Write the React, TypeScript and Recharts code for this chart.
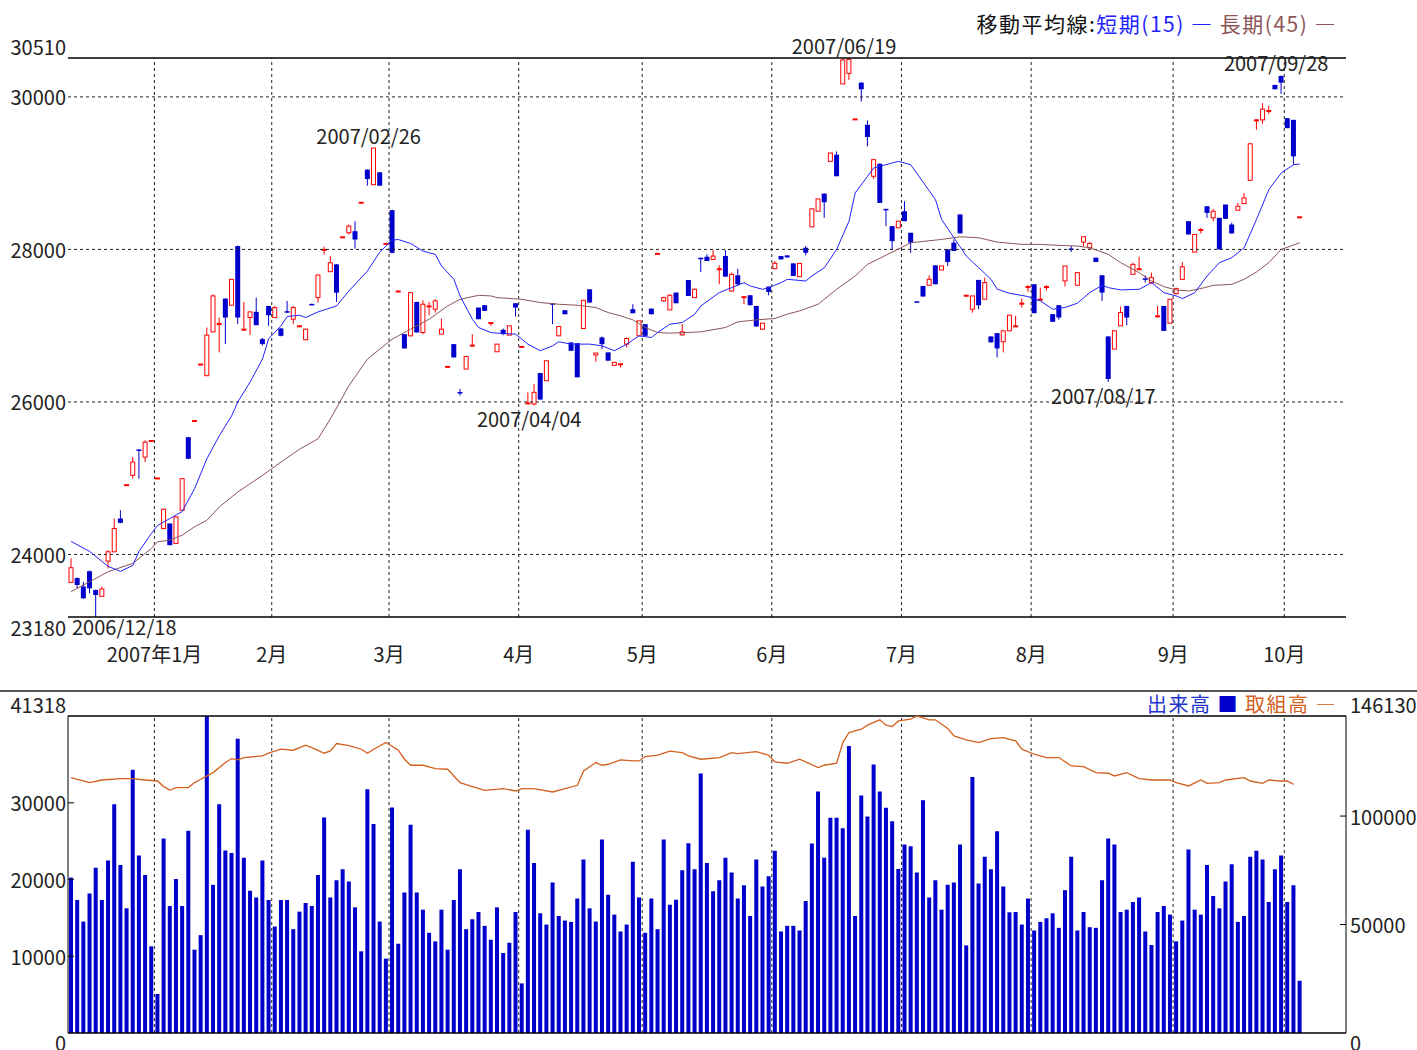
import { ComposedChart, Bar, Line, XAxis, YAxis, ReferenceLine, ReferenceDot } from 'recharts';

const FONT = '"Noto Sans CJK JP", "Noto Sans", sans-serif';
const TEXT = '#222';
const RED = '#ff0000';
const BLUE = '#0000cc';
const SHORT_COLOR = '#2222ff';
const LONG_COLOR = '#8c5656';
const OI_COLOR = '#d2601e';

const SLOTS = 207;
const PRICE_MIN = 23180;
const PRICE_MAX = 30510;
const VOL_MAX = 41318;
const OI_MAX = 146130;

// trading days from 2006/12/12, one entry per day
const opens = [
  23634, 23690, 23580, 23780, 23534, 23451, 23913, 24035, 24471, 24910, 25037, 25377, 25277, 25490, 24998, 24340, 24406, 24144, 24580, 25538,
  25750, 26490, 26344, 26919, 27020, 27355, 27268, 28044, 26950, 27107, 27181, 26824, 27259, 27107, 26963, 27190, 27085, 26990, 26815, 27285,
  27368, 27995, 27708, 27804, 28160, 28218, 28239, 28613, 29045, 28849, 29011, 28073, 28514, 27450, 26889, 26867, 27311, 26911, 27255, 27216,
  26889, 26461, 26758, 26130, 26431, 26740, 27237, 27268, 27036, 26658, 26946, 26876, 27294, 26723, 25982, 25974, 26379, 26279, 27294, 26867,
  27203, 26780, 26771, 26963, 27477, 26615, 26846, 26650, 26480, 26495, 26758, 27216, 26867, 27020, 27224, 27943, 27325, 27207, 27434, 26880,
  27599, 27368, 27891, 27904, 27869, 27740, 27913, 27455, 27660, 27375, 27399, 27259, 26954, 27512, 27747, 27913, 27922, 27817, 27643, 28022,
  28296, 28501, 28732, 29155, 29242, 30170, 30309, 29707, 30187, 29634, 28959, 29124, 28532, 28305, 28283, 28501, 28218, 27320, 27521, 27530,
  27791, 27730, 28000, 28088, 28458, 27394, 27216, 27600, 27347, 26859, 26902, 26789, 26933, 26994, 27290, 27508, 27543, 27340, 27508, 27151,
  27268, 27587, 28012, 27530, 28096, 28022, 27892, 27661, 26859, 26693, 26998, 27259, 27673, 27740, 27620, 27564, 27120, 27259, 27033, 27420,
  27608, 28370, 27965, 28255, 28566, 28414, 28414, 28588, 28327, 28514, 28601, 28906, 29690, 29699, 29815, 30157, 30274, 29721, 29699, 28422,
];
const highs = [
  23948, 23700, 23640, 23790, 23540, 23578, 24057, 24471, 24580, 24915, 25277, 25377, 25495, 25495, 25003, 24600, 24410, 24500, 25000, 25540,
  25756, 26497, 26976, 27410, 27107, 27360, 27610, 28050, 27312, 27181, 27368, 26840, 27260, 27260, 26970, 27325, 27259, 27010, 26960, 27290,
  27670, 28035, 27912, 27810, 28165, 28327, 28370, 28618, 29050, 29329, 29011, 28078, 28520, 27455, 26889, 27440, 27315, 27333, 27311, 27346,
  27093, 26466, 26760, 26170, 26597, 26889, 27240, 27270, 27045, 26758, 26963, 26998, 27294, 26728, 26126, 26235, 26380, 26540, 27294, 26989,
  27203, 26780, 26771, 27333, 27477, 26641, 26858, 26650, 26519, 26500, 26846, 27281, 27063, 27020, 27224, 27948, 27380, 27412, 27434, 27020,
  27599, 27486, 27891, 27935, 27991, 27791, 27991, 27695, 27747, 27381, 27399, 27259, 27033, 27512, 27848, 27913, 27922, 27817, 27817, 28044,
  28532, 28662, 28732, 29264, 29285, 30500, 30510, 29712, 30190, 29691, 29186, 29124, 28532, 28305, 28370, 28632, 28218, 27320, 27521, 27661,
  27791, 27783, 28000, 28131, 28458, 27399, 27390, 27600, 27630, 26859, 26902, 26933, 27138, 27129, 27356, 27530, 27543, 27499, 27530, 27151,
  27268, 27783, 28044, 27696, 28166, 28096, 27892, 27661, 26859, 26933, 27250, 27259, 27826, 27904, 27660, 27695, 27259, 27259, 27346, 27500,
  27834, 28370, 28196, 28283, 28566, 28531, 28414, 28588, 28350, 28610, 28741, 29385, 29710, 29917, 29882, 30157, 30280, 29721, 29699, 28427,
];
const lows = [
  23634, 23560, 23420, 23490, 23180, 23451, 23817, 24035, 24410, 24910, 24994, 24994, 25212, 25490, 24998, 24330, 24120, 24140, 24575, 25250,
  25750, 26490, 26340, 26919, 26650, 26758, 27268, 27020, 26932, 26876, 27007, 26740, 26998, 27100, 26860, 27165, 27019, 26985, 26810, 27275,
  27303, 27934, 27708, 27311, 28160, 28196, 28009, 28613, 28836, 28849, 28836, 28073, 27947, 27450, 26701, 26860, 26911, 26889, 27137, 27172,
  26889, 26461, 26584, 26083, 26431, 26727, 27085, 27194, 26998, 26658, 26876, 26876, 27120, 26723, 25974, 25952, 26031, 26279, 27020, 26867,
  27150, 26671, 26323, 26963, 27303, 26527, 26693, 26541, 26475, 26453, 26715, 27163, 26867, 26867, 27150, 27943, 27315, 27207, 27294, 26867,
  27390, 27368, 27704, 27848, 27869, 27543, 27643, 27442, 27521, 27281, 27268, 26989, 26950, 27399, 27747, 27869, 27891, 27652, 27643, 27922,
  28296, 28501, 28414, 29155, 28959, 30170, 30222, 29707, 29939, 29351, 28924, 28610, 28305, 27991, 28283, 28370, 27957, 27312, 27382, 27530,
  27543, 27730, 27783, 27979, 28210, 27394, 27170, 27216, 27347, 26781, 26584, 26650, 26933, 26994, 27238, 27443, 27164, 27340, 27460, 27051,
  27080, 27513, 27966, 27530, 28044, 28000, 27835, 27325, 26260, 26693, 26998, 27006, 27673, 27740, 27564, 27550, 27107, 26932, 27033, 27410,
  27608, 28196, 27965, 28209, 28414, 28370, 28000, 28401, 28209, 28514, 28601, 28906, 29568, 29647, 29778, 30100, 30039, 29590, 29111, 28422,
];
const closes = [
  23826, 23600, 23425, 23556, 23469, 23547, 24035, 24340, 24414, 24915, 25212, 25360, 25473, 25495, 25003, 24593, 24122, 24493, 24994, 25255,
  25756, 26497, 26876, 27390, 27028, 27107, 27608, 27107, 26954, 27181, 27007, 26758, 27137, 27237, 26867, 27172, 27237, 26998, 26954, 27281,
  27664, 28000, 27825, 27433, 28165, 28305, 28130, 28618, 28923, 29329, 28836, 28078, 27956, 27455, 26701, 27433, 26911, 27281, 27259, 27325,
  26954, 26466, 26584, 26110, 26597, 26745, 27085, 27194, 27041, 26758, 26889, 26998, 27238, 26728, 25987, 26126, 26031, 26540, 27280, 26989,
  27150, 26671, 26323, 27333, 27303, 26641, 26758, 26541, 26519, 26500, 26832, 27163, 27063, 26867, 27150, 27948, 27368, 27399, 27294, 26919,
  27390, 27477, 27880, 27848, 27913, 27747, 27643, 27673, 27543, 27381, 27268, 26989, 27033, 27442, 27817, 27869, 27895, 27652, 27817, 27956,
  28532, 28662, 28619, 29264, 28959, 30484, 30492, 29712, 30100, 29473, 29177, 28610, 28520, 28109, 28370, 28370, 28088, 27316, 27382, 27608,
  27543, 27783, 27835, 27979, 28210, 27399, 27390, 27268, 27565, 26781, 26702, 26933, 27138, 26998, 27295, 27513, 27164, 27347, 27513, 27051,
  27107, 27783, 28009, 27696, 28166, 28079, 27835, 27434, 26301, 26933, 27172, 27107, 27804, 27747, 27617, 27630, 27129, 26932, 27346, 27486,
  27773, 28196, 28196, 28261, 28479, 28501, 28000, 28401, 28209, 28566, 28675, 29385, 29699, 29839, 29821, 30100, 30187, 29590, 29220, 28427,
];
const volumes = [
  20257, 17326, 14525, 18188, 21550, 17326, 22498, 29825, 21895, 16249, 34308, 23145, 20602, 11292, 5086, 25343, 16550, 20085, 16550, 26377,
  10861, 12758, 41318, 19309, 29825, 23791, 23446, 38359, 22843, 18533, 17671, 22498, 17326, 13878, 17326, 17326, 13533, 15818, 16938, 16550,
  20602, 28101, 17671, 19912, 21335, 19740, 16378, 10646, 31765, 27239, 14525, 9698, 29394, 11637, 18318, 27153, 18318, 16076, 13059, 11939,
  16076, 10861, 17326, 21335, 13533, 14826, 15775, 13964, 12154, 16378, 10430, 11766, 15775, 6465, 26507, 22153, 15602, 14137, 19611, 15257,
  14654, 14482, 17542, 22628, 16249, 14525, 25214, 18016, 15430, 13232, 14137, 22326, 17671, 13059, 17542, 13533, 25214, 16723, 17369, 21205,
  24739, 21335, 33834, 22153, 18490, 19912, 22843, 20904, 17542, 19266, 15257, 22628, 19093, 20429, 23748, 13232, 13964, 13964, 13361, 17197,
  24696, 31463, 22843, 28058, 28058, 26679, 37411, 15257, 30946, 28231, 34997, 31463, 29351, 27584, 21378, 24567, 24352, 20904, 30342, 17671,
  19912, 16076, 19309, 19611, 24567, 11422, 33359, 19481, 22972, 21335, 26291, 19093, 15732, 15775, 14137, 17542, 13361, 14482, 14956, 15602,
  13706, 18619, 22972, 13361, 15775, 13792, 13706, 19912, 25343, 24567, 15775, 16076, 17068, 17671, 13232, 11465, 15775, 16550, 15430, 11939,
  14654, 23921, 16076, 15430, 21895, 17843, 16249, 19740, 21981, 14482, 15257, 22972, 23748, 22628, 17068, 21335, 23145, 17068, 19266, 6810,
];

// moving averages and open interest at these day indexes
const maShortIdx = [0, 3, 6, 8, 10, 11, 13, 14, 16, 18, 20, 22, 24, 26, 27, 29, 31, 32, 34, 35, 37, 38, 40, 43, 45, 48, 50, 52, 53, 55, 57, 59, 60, 62, 63, 65, 66, 68, 69, 72, 74, 76, 78, 79, 81, 84, 86, 88, 90, 92, 94, 95, 97, 99, 101, 102, 105, 107, 109, 110, 112, 113, 115, 116, 119, 120, 122, 124, 126, 127, 129, 130, 133, 134, 136, 140, 141, 143, 145, 147, 149, 150, 152, 155, 157, 159, 161, 163, 165, 167, 168, 170, 173, 175, 177, 179, 180, 182, 184, 186, 188, 190, 192, 194, 196, 198, 199];
const maShortVal = [24171, 24040, 23844, 23778, 23857, 24040, 24275, 24380, 24471, 24563, 24863, 25256, 25556, 25817, 26000, 26262, 26563, 26830, 26998, 27120, 27137, 27107, 27181, 27259, 27455, 27717, 27965, 28122, 28130, 28078, 27978, 27934, 27782, 27608, 27390, 27085, 26976, 26910, 26902, 26889, 26758, 26671, 26736, 26789, 26758, 26758, 26736, 26671, 26758, 26867, 26845, 26911, 27020, 27041, 27150, 27259, 27434, 27499, 27564, 27521, 27477, 27499, 27564, 27608, 27586, 27652, 27760, 28000, 28370, 28741, 28959, 29068, 29133, 29155, 29111, 28654, 28393, 28153, 27913, 27761, 27608, 27478, 27425, 27382, 27325, 27216, 27238, 27295, 27434, 27530, 27499, 27469, 27477, 27564, 27433, 27390, 27355, 27433, 27651, 27826, 27891, 28022, 28392, 28784, 29002, 29111, 29120];
const maLongIdx = [0, 3, 6, 10, 13, 14, 16, 18, 20, 22, 24, 27, 31, 34, 37, 40, 42, 45, 48, 52, 55, 58, 61, 63, 66, 68, 69, 73, 76, 79, 82, 85, 87, 89, 91, 93, 95, 97, 100, 102, 103, 106, 108, 111, 114, 116, 118, 121, 124, 127, 129, 133, 136, 137, 141, 144, 147, 150, 154, 157, 160, 163, 165, 168, 170, 173, 175, 177, 179, 181, 183, 185, 188, 190, 192, 194, 196, 199];
const maLongVal = [23512, 23643, 23774, 23883, 24079, 24166, 24188, 24253, 24362, 24449, 24623, 24819, 25037, 25212, 25380, 25517, 25778, 26213, 26562, 26823, 26954, 27085, 27259, 27346, 27398, 27390, 27368, 27346, 27303, 27281, 27268, 27238, 27172, 27129, 27076, 26976, 26911, 26902, 26911, 26919, 26933, 26976, 27050, 27076, 27094, 27151, 27194, 27281, 27477, 27652, 27804, 27965, 28087, 28096, 28131, 28166, 28153, 28096, 28066, 28066, 28053, 28044, 28022, 27935, 27826, 27695, 27586, 27512, 27468, 27455, 27486, 27529, 27542, 27608, 27704, 27826, 28000, 28087];
const oiIdx = [0, 3, 5, 8, 10, 12, 14, 15, 16, 17, 19, 20, 21, 23, 25, 26, 27, 28, 31, 32, 34, 36, 38, 39, 41, 42, 43, 45, 47, 48, 49, 51, 53, 54, 55, 57, 59, 61, 63, 65, 67, 70, 72, 73, 75, 78, 80, 82, 83, 85, 86, 87, 89, 91, 92, 93, 95, 97, 99, 100, 102, 105, 107, 108, 111, 113, 114, 116, 118, 121, 122, 124, 125, 126, 128, 129, 131, 132, 133, 134, 136, 137, 139, 140, 142, 143, 145, 147, 149, 151, 153, 154, 156, 158, 160, 162, 164, 166, 168, 169, 171, 173, 175, 178, 179, 181, 183, 184, 186, 187, 190, 191, 193, 194, 196, 197, 198];
const oiVal = [117734, 115425, 116625, 117272, 117272, 116625, 116164, 113582, 112021, 113117, 113117, 115425, 116963, 120042, 124659, 126506, 125890, 126968, 127737, 128968, 130815, 130353, 132662, 131585, 128968, 130045, 133431, 132508, 130815, 128968, 130815, 133893, 130353, 126198, 123427, 123427, 121889, 121581, 115425, 113582, 111867, 112660, 111560, 112660, 112660, 111098, 112660, 114201, 120811, 124659, 123427, 123889, 125890, 125428, 125428, 127429, 128044, 129891, 129276, 127737, 126198, 126968, 129276, 128814, 129737, 128044, 124967, 124351, 126198, 122350, 123427, 124351, 133893, 138510, 140050, 141896, 144359, 141896, 141280, 143870, 144651, 146130, 144359, 144359, 140358, 136961, 135114, 133893, 135740, 136155, 134653, 130815, 128506, 126968, 126968, 123104, 122812, 120042, 119734, 118495, 120042, 117272, 116625, 116625, 115425, 113886, 116625, 115117, 115425, 116625, 117734, 116164, 115117, 116625, 116164, 116164, 114640];

const monthStart = [14, 33, 52, 73, 93, 114, 135, 156, 179, 197];
const monthLabel = ['2007年1月', '2月', '3月', '4月', '5月', '6月', '7月', '8月', '9月', '10月'];
const priceTicks = [23180, 24000, 26000, 28000, 30000, 30510];
const priceGrid = [24000, 26000, 28000, 30000];
const volTicks = [0, 10000, 20000, 30000, 41318];
const oiTicks = [0, 50000, 100000, 146130];

const peakIdx = [4, 49, 75, 126, 168, 196];
const peakPrice = [23180, 29329, 25952, 30510, 26260, 30280];
const peakText = ['2006/12/18', '2007/02/26', '2007/04/04', '2007/06/19', '2007/08/17', '2007/09/28'];
const peakHigh = [false, true, false, true, false, true];

const priceRows: any[] = Array.from({ length: SLOTS }, (_, i) => ({
  i, open: opens[i], high: highs[i], low: lows[i], close: closes[i], maS: null, maL: null,
}));
maShortIdx.forEach((k, j) => { priceRows[k].maS = maShortVal[j]; });
maLongIdx.forEach((k, j) => { priceRows[k].maL = maLongVal[j]; });

const volRows: any[] = Array.from({ length: SLOTS }, (_, i) => ({ i, vol: volumes[i], oi: null }));
oiIdx.forEach((k, j) => { volRows[k].oi = oiVal[j]; });

const renderCandle = (props: any) => {
  const { x, y, width, height, payload } = props;
  if (!payload || payload.high == null) return <g />;
  const { open, close, high, low } = payload;
  const ratio = height / (high - PRICE_MIN);
  const py = (v: number) => y + (high - v) * ratio;
  const cx = x + width / 2;
  const up = close >= open;
  const color = up ? RED : BLUE;
  const top = py(Math.max(open, close));
  const bot = py(Math.min(open, close));
  return (
    <g>
      <line x1={cx} x2={cx} y1={py(high)} y2={py(low)} stroke={color} strokeWidth={1} />
      {up ? (
        <rect x={cx - 2} y={top} width={4} height={Math.max(bot - top, 1)} fill="#fff" stroke={color} strokeWidth={1} />
      ) : (
        <rect x={cx - 2.5} y={top} width={5} height={Math.max(bot - top, 1.5)} fill={color} />
      )}
    </g>
  );
};

const PriceTick = ({ y, payload }: any) => {
  const v = payload.value;
  const shift = v === PRICE_MAX ? -12 : v === PRICE_MIN ? 10 : 0;
  return (
    <text x={66} y={y + shift} textAnchor="end" dominantBaseline="central" fontSize={20} fill={TEXT} fontFamily={FONT}>{v}</text>
  );
};

const MonthTick = ({ x, payload }: any) => {
  const k = monthStart.indexOf(payload.value);
  if (k < 0) return <g />;
  return (
    <text x={x - 3} y={653} textAnchor="middle" dominantBaseline="central" fontSize={20} fill={TEXT} fontFamily={FONT}>{monthLabel[k]}</text>
  );
};

const VolTick = ({ y, payload }: any) => {
  const v = payload.value;
  const shift = v === VOL_MAX ? -12 : v === 0 ? 9 : 0;
  return (
    <g>
      {v !== 0 && v !== VOL_MAX && <line x1={68} x2={74} y1={y} y2={y} stroke="#000" />}
      <text x={66} y={y + shift} textAnchor="end" dominantBaseline="central" fontSize={20} fill={TEXT} fontFamily={FONT}>{v}</text>
    </g>
  );
};

const OiTick = ({ y, payload }: any) => {
  const v = payload.value;
  const shift = v === OI_MAX ? -12 : v === 0 ? 9 : 0;
  return (
    <g>
      {v !== 0 && v !== OI_MAX && <line x1={1340} x2={1346} y1={y} y2={y} stroke="#000" />}
      <text x={1350} y={y + shift} textAnchor="start" dominantBaseline="central" fontSize={20} fill={TEXT} fontFamily={FONT}>{v}</text>
    </g>
  );
};

const PeakLabel = ({ cx, cy, text, high }: any) => {
  const nearLeft = cx - 60 < 68;
  const dy = high ? -13 : nearLeft ? 9 : 13;
  return (
    <text x={nearLeft ? 72 : cx - 5} y={cy + dy} textAnchor={nearLeft ? 'start' : 'middle'}
      dominantBaseline="central" fontSize={20} fill={TEXT} fontFamily={FONT}>{text}</text>
  );
};

export default function App() {
  return (
    <div style={{ position: 'absolute', left: 0, top: 0, width: 1417, height: 1050, background: '#fff', fontFamily: FONT, overflow: 'hidden' }}>
      <div style={{ position: 'absolute', left: 0, top: 0 }}>
        <ComposedChart width={1417} height={691} data={priceRows} margin={{ top: 58, right: 71, bottom: 0, left: 0 }} barCategoryGap={0}>
          <XAxis dataKey="i" type="category" interval={0} tick={<MonthTick />} tickLine={false} axisLine={false} height={74} />
          <YAxis domain={[PRICE_MIN, PRICE_MAX]} allowDataOverflow ticks={priceTicks} interval={0} tick={<PriceTick />}
            tickLine={false} axisLine={false} width={68} />
          {priceGrid.map((v) => (
            <ReferenceLine key={'h' + v} y={v} stroke="#222" strokeDasharray="3 3" />
          ))}
          {monthStart.map((k) => (
            <ReferenceLine key={'m' + k} x={k} position="start" stroke="#222" strokeDasharray="3 3" />
          ))}
          <ReferenceLine y={PRICE_MAX} stroke="#000" strokeWidth={1.5} />
          <ReferenceLine y={PRICE_MIN} stroke="#000" strokeWidth={1.5} />
          <Bar dataKey={(d: any) => (d.high == null ? null : [PRICE_MIN, d.high])} shape={renderCandle} isAnimationActive={false} />
          <Line dataKey="maL" stroke={LONG_COLOR} strokeWidth={1} dot={false} activeDot={false} connectNulls isAnimationActive={false} />
          <Line dataKey="maS" stroke={SHORT_COLOR} strokeWidth={1} dot={false} activeDot={false} connectNulls isAnimationActive={false} />
          {peakIdx.map((k, j) => (
            <ReferenceDot key={'p' + k} x={k} y={peakPrice[j]} r={0} ifOverflow="visible"
              shape={(p: any) => <PeakLabel cx={p.cx} cy={p.cy} text={peakText[j]} high={peakHigh[j]} />} />
          ))}
        </ComposedChart>
      </div>
      <div style={{ position: 'absolute', right: 80, top: 11, fontSize: 21, lineHeight: '24px', whiteSpace: 'nowrap', letterSpacing: 1.5 }}>
        <span style={{ color: '#111' }}>移動平均線:</span>
        <span style={{ color: SHORT_COLOR }}>短期(15) ―</span>
        <span style={{ color: LONG_COLOR }}> 長期(45) ―</span>
      </div>
      <div style={{ position: 'absolute', left: 0, top: 690, width: 1417, height: 2, background: '#555' }} />
      <div style={{ position: 'absolute', left: 0, top: 691 }}>
        <ComposedChart width={1417} height={359} data={volRows} margin={{ top: 25, right: 0, bottom: 17, left: 0 }}>
          <XAxis dataKey="i" type="category" hide />
          <YAxis yAxisId="vol" orientation="left" domain={[0, VOL_MAX]} ticks={volTicks} interval={0} tick={<VolTick />}
            tickLine={false} axisLine={{ stroke: '#000' }} width={68} />
          <YAxis yAxisId="oi" orientation="right" domain={[0, OI_MAX]} ticks={oiTicks} interval={0} tick={<OiTick />}
            tickLine={false} axisLine={{ stroke: '#000' }} width={71} />
          {monthStart.map((k) => (
            <ReferenceLine key={'v' + k} yAxisId="vol" x={k} position="start" stroke="#222" strokeDasharray="3 3" />
          ))}
          <ReferenceLine yAxisId="vol" y={VOL_MAX} stroke="#000" strokeWidth={1.5} />
          <ReferenceLine yAxisId="vol" y={0} stroke="#000" strokeWidth={1.5} />
          <Bar yAxisId="vol" dataKey="vol" fill={BLUE} barSize={4} isAnimationActive={false} />
          <Line yAxisId="oi" dataKey="oi" stroke={OI_COLOR} strokeWidth={1.3} dot={false} activeDot={false} connectNulls isAnimationActive={false} />
        </ComposedChart>
      </div>
      <div style={{ position: 'absolute', right: 80, top: 692, fontSize: 20, lineHeight: '24px', whiteSpace: 'nowrap', letterSpacing: 1.5 }}>
        <span style={{ color: '#2233cc' }}>出来高 </span>
        <span style={{ color: BLUE }}>■ </span>
        <span style={{ color: OI_COLOR }}>取組高 ―</span>
      </div>
    </div>
  );
}
